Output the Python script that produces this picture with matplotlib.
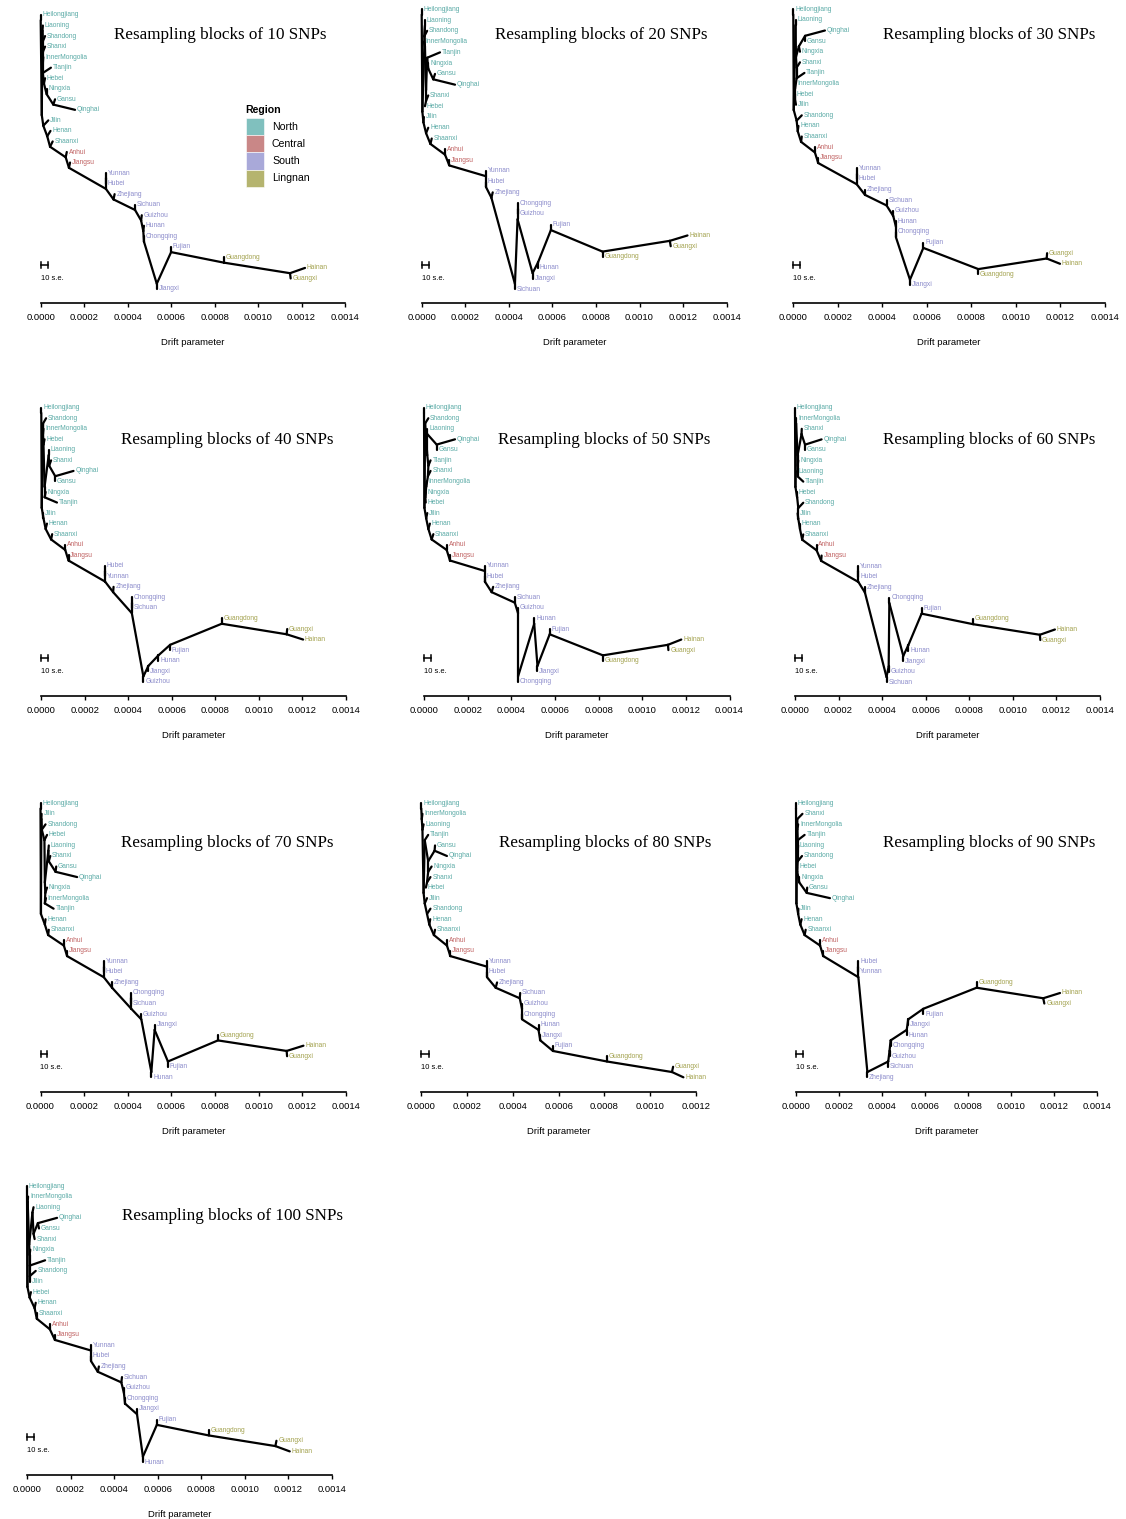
import matplotlib
matplotlib.use('Agg')
import matplotlib.pyplot as plt
from matplotlib.collections import LineCollection
from matplotlib.patches import Rectangle

plt.rcParams['font.family'] = ['Liberation Sans', 'DejaVu Sans']

# population groups
regions = ['North', 'Central', 'South', 'Lingnan']
north = ['Heilongjiang', 'Jilin', 'Liaoning', 'InnerMongolia', 'Hebei', 'Tianjin', 'Shandong',
         'Shanxi', 'Shaanxi', 'Henan', 'Ningxia', 'Gansu', 'Qinghai']
central = ['Anhui', 'Jiangsu']
south = ['Yunnan', 'Hubei', 'Zhejiang', 'Sichuan', 'Guizhou', 'Hunan', 'Chongqing', 'Jiangxi', 'Fujian']
lingnan = ['Guangdong', 'Guangxi', 'Hainan']

block_sizes = [10, 20, 30, 40, 50, 60, 70, 80, 90, 100]

# trees: "node drift -> child child", leaves written as Name:drift, drift in units of 1e-4
tree_10 = """
r 0 -> Heilongjiang:0 n1
n1 0.05 -> a1 b1
a1 0.08 -> Liaoning:0.1 a2
a2 0.1 -> Shandong:0.2 a3
a3 0.1 -> Shanxi:0.2 a4
a4 0.1 -> InnerMongolia:0.12 a5
a5 0.1 -> Tianjin:0.47 a6
a6 0.15 -> Hebei:0.2 a7
a7 0.27 -> Ningxia:0.27 a8
a8 0.58 -> Gansu:0.66 Qinghai:1.58
b1 0.12 -> Jilin:0.35 b2
b2 0.3 -> Henan:0.45 b3
b3 0.43 -> Shaanxi:0.55 b4
b4 1.15 -> Anhui:1.2 b5
b5 1.3 -> Jiangsu:1.35 s1
s1 3.0 -> s0 s2
s0 3.0 -> Yunnan:3.0 Hubei:3.0
s2 3.35 -> Zhejiang:3.4 s3
s3 4.34 -> Sichuan:4.34 s4
s4 4.62 -> Guizhou:4.65 s5
s5 4.72 -> Hunan:4.75 s6
s6 4.75 -> Chongqing:4.75 s7
s7 5.34 -> s8 Jiangxi:5.34
s8 6.0 -> Fujian:6.0 s9
s9 8.43 -> Guangdong:8.43 s10
s10 11.47 -> Hainan:12.16 Guangxi:11.5
"""

tree_20 = """
r 0 -> Heilongjiang:0 n1
n1 0.03 -> a1 b1
a1 0.15 -> Liaoning:0.15 a2
a2 0.12 -> Shandong:0.25 a3
a3 0.15 -> InnerMongolia:0.1 a4
a4 0.2 -> a5 a9
a5 0.25 -> Tianjin:0.84 a6
a6 0.3 -> Ningxia:0.3 a7
a7 0.53 -> Gansu:0.61 Qinghai:1.53
a9 0.2 -> Shanxi:0.3 Hebei:0.15
b1 0.08 -> Jilin:0.1 b2
b2 0.2 -> Henan:0.3 b3
b3 0.4 -> Shaanxi:0.46 b4
b4 1.07 -> Anhui:1.07 b5
b5 1.27 -> Jiangsu:1.27 s1
s1 2.95 -> Yunnan:2.95 s2
s2 2.95 -> Hubei:2.95 s3
s3 3.2 -> Zhejiang:3.26 s4
s4 4.28 -> s5 Sichuan:4.28
s5 4.4 -> s6 s7
s6 4.4 -> Chongqing:4.4 Guizhou:4.4
s7 5.09 -> s8 Jiangxi:5.09
s8 5.34 -> s9 Hunan:5.34
s9 5.93 -> Fujian:5.93 s10
s10 8.3 -> s11 Guangdong:8.3
s11 11.39 -> Hainan:12.2 Guangxi:11.43
"""

tree_30 = """
r 0 -> Heilongjiang:0 n1
n1 0.02 -> a1 b1
a1 0.1 -> Liaoning:0.1 a2
a2 0.12 -> a3 a5
a3 0.25 -> a4 Ningxia:0.3
a4 0.53 -> Qinghai:1.42 Gansu:0.53
a5 0.15 -> Shanxi:0.3 a6
a6 0.15 -> Tianjin:0.5 a7
a7 0.08 -> InnerMongolia:0.08 a8
a8 0.08 -> Hebei:0.08 Jilin:0.12
b1 0.15 -> Shandong:0.38 b2
b2 0.2 -> Henan:0.23 b3
b3 0.35 -> Shaanxi:0.38 b4
b4 0.97 -> Anhui:0.97 b5
b5 1.12 -> Jiangsu:1.12 s1
s1 2.85 -> s0 s2
s0 2.85 -> Yunnan:2.85 Hubei:2.85
s2 3.22 -> Zhejiang:3.22 s3
s3 4.19 -> Sichuan:4.19 s4
s4 4.49 -> Guizhou:4.49 s5
s5 4.61 -> Hunan:4.61 s6
s6 4.61 -> Chongqing:4.61 s7
s7 5.24 -> s8 Jiangxi:5.24
s8 5.84 -> Fujian:5.84 s9
s9 8.31 -> s10 Guangdong:8.31
s10 11.38 -> Guangxi:11.4 Hainan:11.98
"""

tree_40 = """
r 0 -> Heilongjiang:0 n1
n1 0.02 -> a1 b1
a1 0.08 -> Shandong:0.22 a2
a2 0.08 -> InnerMongolia:0.1 a3
a3 0.1 -> Hebei:0.15 a4
a4 0.15 -> a5 a8
a5 0.34 -> Liaoning:0.34 a6
a6 0.36 -> Shanxi:0.45 a7
a7 0.64 -> Qinghai:1.48 Gansu:0.64
a8 0.15 -> Ningxia:0.2 Tianjin:0.72
b1 0.1 -> Jilin:0.1 b2
b2 0.2 -> Henan:0.26 b3
b3 0.45 -> Shaanxi:0.5 b4
b4 1.1 -> Anhui:1.1 b5
b5 1.25 -> Jiangsu:1.25 s1
s1 2.93 -> s0 s2
s0 2.93 -> Hubei:2.93 Yunnan:2.93
s2 3.3 -> Zhejiang:3.32 s3
s3 4.16 -> s4 s5
s4 4.16 -> Chongqing:4.16 Sichuan:4.16
s5 4.69 -> s6 Guizhou:4.69
s6 4.92 -> s7 Jiangxi:4.92
s7 5.38 -> s8 Hunan:5.38
s8 5.92 -> s9 Fujian:5.92
s9 8.29 -> Guangdong:8.29 s10
s10 11.27 -> Guangxi:11.3 Hainan:12.03
"""

tree_50 = """
r 0 -> Heilongjiang:0 n1
n1 0.02 -> a1 b1
a1 0.05 -> Shandong:0.2 a2
a2 0.15 -> a3 a5
a3 0.15 -> Liaoning:0.15 a4
a4 0.58 -> Qinghai:1.42 Gansu:0.58
a5 0.2 -> Tianjin:0.3 a6
a6 0.18 -> Shanxi:0.3 a7
a7 0.1 -> InnerMongolia:0.12 a8
a8 0.06 -> Ningxia:0.08 Hebei:0.08
b1 0.1 -> Jilin:0.15 b2
b2 0.2 -> Henan:0.27 b3
b3 0.35 -> Shaanxi:0.43 b4
b4 1.04 -> Anhui:1.04 b5
b5 1.19 -> Jiangsu:1.19 s1
s1 2.79 -> Yunnan:2.79 s2
s2 2.79 -> Hubei:2.79 s3
s3 3.1 -> Zhejiang:3.17 s4
s4 4.16 -> Sichuan:4.16 s5
s5 4.31 -> Guizhou:4.31 s6
s6 4.31 -> s7 Chongqing:4.31
s7 5.05 -> Hunan:5.05 s8
s8 5.2 -> s9 Jiangxi:5.2
s9 5.76 -> Fujian:5.76 s10
s10 8.2 -> s11 Guangdong:8.2
s11 11.18 -> Hainan:11.79 Guangxi:11.2
"""

tree_60 = """
r 0 -> Heilongjiang:0 n1
n1 0.02 -> a1 b1
a1 0.05 -> InnerMongolia:0.05 a2
a2 0.12 -> a3 a5
a3 0.3 -> Shanxi:0.31 a4
a4 0.46 -> Qinghai:1.22 Gansu:0.46
a5 0.12 -> Ningxia:0.15 a6
a6 0.12 -> Liaoning:0.1 Tianjin:0.38
b1 0.1 -> Hebei:0.1 b2
b2 0.15 -> Shandong:0.38 b3
b3 0.15 -> Jilin:0.12 b4
b4 0.23 -> Henan:0.23 b5
b5 0.33 -> Shaanxi:0.38 b6
b6 0.99 -> Anhui:0.99 b7
b7 1.2 -> Jiangsu:1.22 s1
s1 2.91 -> s0 s2
s0 2.91 -> Yunnan:2.91 Hubei:2.91
s2 3.21 -> Zhejiang:3.21 s3
s3 4.2 -> s4 Sichuan:4.2
s4 4.3 -> s5 Guizhou:4.3
s5 4.33 -> Chongqing:4.33 s6
s6 4.97 -> s7 Jiangxi:4.97
s7 5.2 -> s8 Hunan:5.2
s8 5.81 -> Fujian:5.81 s9
s9 8.18 -> Guangdong:8.18 s10
s10 11.24 -> Hainan:11.93 Guangxi:11.26
"""

tree_70 = """
r 0 -> Heilongjiang:0 n1
n1 0.02 -> a1 b1
a1 0.04 -> Jilin:0.05 a2
a2 0.06 -> Shandong:0.23 a3
a3 0.18 -> Hebei:0.3 a4
a4 0.2 -> a5 a8
a5 0.36 -> Liaoning:0.38 a6
a6 0.38 -> Shanxi:0.45 a7
a7 0.69 -> Gansu:0.72 Qinghai:1.68
a8 0.22 -> Ningxia:0.3 a9
a9 0.2 -> InnerMongolia:0.25 Tianjin:0.6
b1 0.2 -> Henan:0.23 b2
b2 0.35 -> Shaanxi:0.38 b3
b3 1.07 -> Anhui:1.07 b4
b4 1.22 -> Jiangsu:1.22 s1
s1 2.9 -> s0 s2
s0 2.9 -> Yunnan:2.9 Hubei:2.9
s2 3.28 -> Zhejiang:3.28 s3
s3 4.16 -> s4 s5
s4 4.16 -> Chongqing:4.16 Sichuan:4.16
s5 4.62 -> Guizhou:4.62 s6
s6 5.08 -> s7 Hunan:5.08
s7 5.23 -> Jiangxi:5.23 s8
s8 5.84 -> s9 Fujian:5.84
s9 8.13 -> Guangdong:8.13 s10
s10 11.28 -> Hainan:12.05 Guangxi:11.3
"""

tree_80 = """
r 0 -> Heilongjiang:0 n1
n1 0.02 -> InnerMongolia:0.05 n2
n2 0.05 -> Liaoning:0.1 n3
n3 0.1 -> a1 b1
a1 0.15 -> Tianjin:0.3 a2
a2 0.3 -> a3 a4
a3 0.58 -> Gansu:0.6 Qinghai:1.12
a4 0.3 -> Ningxia:0.45 a5
a5 0.25 -> Shanxi:0.4 Hebei:0.2
b1 0.15 -> Jilin:0.25 b2
b2 0.25 -> Shandong:0.4 b3
b3 0.35 -> Henan:0.39 b4
b4 0.55 -> Shaanxi:0.6 b5
b5 1.12 -> Anhui:1.12 b6
b6 1.27 -> Jiangsu:1.27 s1
s1 2.87 -> Yunnan:2.87 s2
s2 2.87 -> Hubei:2.87 s3
s3 3.25 -> Zhejiang:3.31 s4
s4 4.3 -> Sichuan:4.32 s5
s5 4.4 -> Guizhou:4.4 s6
s6 4.4 -> Chongqing:4.4 s7
s7 5.12 -> Hunan:5.12 s8
s8 5.2 -> Jiangxi:5.2 s9
s9 5.75 -> Fujian:5.75 s10
s10 8.11 -> Guangdong:8.11 s11
s11 10.95 -> Guangxi:11.0 Hainan:11.45
"""

tree_90 = """
r 0 -> Heilongjiang:0 n1
n1 0.02 -> a1 b1
a1 0.06 -> Shanxi:0.3 a2
a2 0.06 -> InnerMongolia:0.1 a3
a3 0.08 -> Tianjin:0.4 a4
a4 0.08 -> Liaoning:0.1 a5
a5 0.08 -> Shandong:0.28 a6
a6 0.06 -> Hebei:0.06 a7
a7 0.15 -> Ningxia:0.15 a8
a8 0.5 -> Gansu:0.52 Qinghai:1.58
b1 0.1 -> Jilin:0.11 b2
b2 0.2 -> Henan:0.26 b3
b3 0.4 -> Shaanxi:0.45 b4
b4 1.12 -> Anhui:1.12 b5
b5 1.27 -> Jiangsu:1.27 s1
s1 2.9 -> s0 s2
s0 2.9 -> Hubei:2.9 Yunnan:2.9
s2 3.32 -> s3 Zhejiang:3.32
s3 4.29 -> s4 Sichuan:4.29
s4 4.35 -> s5 Guizhou:4.35
s5 4.4 -> s6 Chongqing:4.4
s6 5.15 -> s7 Hunan:5.15
s7 5.22 -> s8 Jiangxi:5.22
s8 5.92 -> s9 Fujian:5.92
s9 8.4 -> Guangdong:8.4 s10
s10 11.5 -> Hainan:12.28 Guangxi:11.55
"""

tree_100 = """
r 0 -> Heilongjiang:0 n1
n1 0.02 -> a1 b1
a1 0.03 -> InnerMongolia:0.05 a2
a2 0.1 -> a3 a5
a3 0.25 -> Liaoning:0.3 a4
a4 0.3 -> a6 Shanxi:0.35
a6 0.5 -> Qinghai:1.38 Gansu:0.55
a5 0.12 -> Ningxia:0.15 a7
a7 0.12 -> Tianjin:0.83 a8
a8 0.12 -> Shandong:0.4 Jilin:0.12
b1 0.12 -> Hebei:0.18 b2
b2 0.35 -> Henan:0.4 b3
b3 0.45 -> Shaanxi:0.45 b4
b4 1.05 -> Anhui:1.05 b5
b5 1.28 -> Jiangsu:1.28 s1
s1 2.94 -> Yunnan:2.94 s2
s2 2.94 -> Hubei:2.94 s3
s3 3.25 -> Zhejiang:3.3 s4
s4 4.33 -> Sichuan:4.36 s5
s5 4.45 -> Guizhou:4.45 s6
s6 4.5 -> Chongqing:4.5 s7
s7 5.05 -> Jiangxi:5.05 s8
s8 5.32 -> s9 Hunan:5.32
s9 5.96 -> Fujian:5.96 s10
s10 8.35 -> Guangdong:8.35 s11
s11 11.4 -> Guangxi:11.45 Hainan:12.06
"""

trees = [tree_10, tree_20, tree_30, tree_40, tree_50, tree_60, tree_70, tree_80, tree_90, tree_100]
xmax_ticks = [0.0014, 0.0014, 0.0014, 0.0014, 0.0014, 0.0014, 0.0014, 0.0012, 0.0014, 0.0014]
se_bar = 0.000032   # length of the 10 s.e. scale bar

fill_colors = {'North': '#80c0be', 'Central': '#c98787', 'South': '#a9a9d9', 'Lingnan': '#b5b46f'}
text_colors = {'North': '#5aaaa6', 'Central': '#c06262', 'South': '#8c8ccb', 'Lingnan': '#a3a24f'}

region_of = {}
for reg, members in zip(regions, [north, central, south, lingnan]):
    for p in members:
        region_of[p] = reg

W, H = 1126, 1519
fig = plt.figure(figsize=(W / 100, H / 100), dpi=100)

# panel frames in pixels: drift-0 x, last-tick x, first leaf y, last leaf y, axis y, title centre
frames = [
    (40.7, 345.0, 15.0, 289.0, 303.3, 220, 35),
    (421.7, 726.7, 9.3, 289.3, 303.3, 601, 35),
    (793.3, 1105.0, 9.3, 285.0, 303.3, 989, 35),
    (41.3, 346.0, 407.7, 681.7, 696.3, 227, 440),
    (424.0, 729.5, 407.7, 681.7, 696.3, 604, 440),
    (795.0, 1100.0, 407.7, 682.3, 696.3, 989, 440),
    (40.5, 346.0, 803.3, 1077.3, 1092.3, 227, 843),
    (421.3, 696.0, 803.3, 1077.3, 1092.3, 605, 843),
    (796.0, 1097.0, 803.3, 1077.3, 1092.3, 989, 843),
    (27.0, 332.0, 1186.0, 1462.0, 1475.3, 232, 1216),
]


def parse_tree(spec):
    nodes, first = {}, None
    for line in spec.strip().splitlines():
        head, kids = line.split('->')
        name, x = head.split()
        nodes[name] = (float(x), kids.split())
        if first is None:
            first = name
    return nodes, first


def layout_tree(nodes, root):
    leaves, segs = [], []

    def walk(name):
        if ':' in name:
            leaf, x = name.split(':')
            r = len(leaves)
            leaves.append((leaf, float(x) * 1e-4, r))
            return float(x) * 1e-4, r, r
        x, kids = nodes[name]
        x *= 1e-4
        placed = [walk(k) for k in kids]
        y = placed[0][2] + 0.5        # node sits between its two clades
        for cx, cy, _ in placed:
            segs.append([(x, y), (cx, cy)])
        return x, y, placed[-1][2]

    walk(root)
    return leaves, segs


for spec, snps, xmax, fr in zip(trees, block_sizes, xmax_ticks, frames):
    x0, x1, ytop, ybot, yaxis, tx, ty = fr
    nodes, root = parse_tree(spec)
    leaves, segs = layout_tree(nodes, root)
    sp = (ybot - ytop) / (len(leaves) - 1)

    ax = fig.add_axes([x0 / W, 1 - yaxis / H, (x1 - x0) / W, (yaxis - ytop) / H])
    ax.set_xlim(0, xmax)
    ax.set_ylim((yaxis - ytop) / sp, 0)
    ax.patch.set_visible(False)

    lc = LineCollection(segs, colors='black', linewidths=1.6, capstyle='round',
                        joinstyle='round', clip_on=False)
    ax.add_collection(lc)

    for name, x, r in leaves:
        ax.annotate(name, (x, r), xytext=(1.3, 0), textcoords='offset points',
                    ha='left', va='center', fontsize=4.8,
                    color=text_colors[region_of[name]], annotation_clip=False)

    # 10 s.e. scale bar
    yb = (yaxis - 38 - ytop) / sp
    ax.plot([0, se_bar], [yb, yb], color='black', lw=1.1, clip_on=False)
    ax.plot([0, 0], [yb - 0.28, yb + 0.28], color='black', lw=1.1, clip_on=False)
    ax.plot([se_bar, se_bar], [yb - 0.28, yb + 0.28], color='black', lw=1.1, clip_on=False)
    ax.text(0, (yaxis - 25 - ytop) / sp, '10 s.e.', ha='left', va='center', fontsize=5.4)

    for s in ['left', 'top', 'right']:
        ax.spines[s].set_visible(False)
    ax.spines['bottom'].set_bounds(0, xmax)
    ax.spines['bottom'].set_linewidth(1.2)
    ticks = [i * 0.0002 for i in range(int(round(xmax / 0.0002)) + 1)]
    ax.set_xticks(ticks)
    ax.set_xticklabels(['%.4f' % t for t in ticks])
    ax.set_yticks([])
    ax.tick_params(axis='x', direction='out', length=2.8, width=1.0, labelsize=6.8, pad=4.5)
    ax.set_xlabel('Drift parameter', fontsize=6.8, labelpad=11)

    fig.text(tx / W, 1 - ty / H, 'Resampling blocks of %d SNPs' % snps,
             ha='center', va='center', family='Liberation Serif', fontsize=12.3)

# region legend in the first panel
fig.text(245 / W, 1 - 110 / H, 'Region', ha='left', va='center', fontsize=7.6, weight='bold')
for i, reg in enumerate(regions):
    top = 118 + i * 17.2
    fig.add_artist(Rectangle((246 / W, 1 - (top + 17.2) / H), 17.5 / W, 17.2 / H,
                             transform=fig.transFigure, facecolor=fill_colors[reg],
                             edgecolor='white', lw=0.4))
    fig.text(272 / W, 1 - (top + 8.6) / H, reg, ha='left', va='center', fontsize=7.6)

fig.savefig('out.png', dpi=100)
